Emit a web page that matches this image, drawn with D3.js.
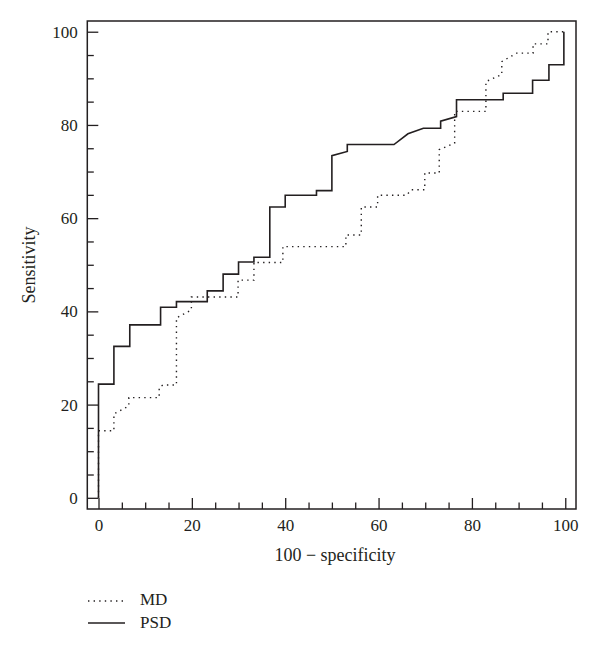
<!DOCTYPE html>
<html>
<head>
<meta charset="utf-8">
<script src="https://cdn.jsdelivr.net/npm/d3@7"></script>
<style>
  html, body { margin: 0; padding: 0; background: #fff; }
  svg { display: block; }
  text { font-family: "Liberation Serif", "Times New Roman", serif; fill: #231f20; }
</style>
</head>
<body>
<svg id="chart" width="600" height="656"></svg>
<script>
// ---- data ----
const seriesNames = ["MD", "PSD"];

const psdFpr = [0, 0, 3.3, 3.3, 6.7, 6.7, 13.3, 13.3, 16.7, 16.7, 23.3, 23.3, 26.7, 26.7, 30, 30, 33.3, 33.3, 36.7, 36.7, 40, 40, 46.7, 46.7, 50, 50, 53.3, 53.3, 63.3, 66.3, 69.6, 73.3, 73.3, 76.7, 76.7, 86.7, 86.7, 93.0, 93.0, 96.5, 96.5, 99.7, 99.7];
const psdTpr = [0, 24.4, 24.4, 32.5, 32.5, 37.1, 37.1, 40.9, 40.9, 42.1, 42.1, 44.4, 44.4, 48.0, 48.0, 50.6, 50.6, 51.6, 51.6, 62.4, 62.4, 64.9, 64.9, 65.9, 65.9, 73.4, 74.3, 75.8, 75.8, 78.1, 79.3, 79.3, 80.8, 81.8, 85.4, 85.4, 86.8, 86.8, 89.6, 89.6, 92.9, 92.9, 100];

const mdFpr = [0, 0, 3.3, 3.3, 6.5, 6.5, 13.0, 13.0, 13.8, 16.7, 16.7, 19.9, 19.9, 29.9, 29.9, 33.3, 33.3, 39.5, 39.5, 53.0, 53.0, 56.3, 56.3, 59.8, 59.8, 66.0, 67.0, 69.9, 69.9, 73.0, 73.0, 76.3, 76.3, 83.0, 83.0, 86.4, 86.4, 89.6, 93.1, 93.1, 96.3, 96.3, 100];
const mdTpr = [0, 14.4, 14.4, 18.0, 19.7, 21.5, 21.5, 23.7, 24.2, 24.2, 38.6, 40.3, 43.1, 43.1, 46.7, 46.7, 50.5, 50.5, 53.9, 53.9, 56.4, 56.4, 62.4, 62.4, 64.9, 64.9, 66.1, 66.1, 69.7, 69.7, 74.7, 76.1, 82.9, 82.9, 89.3, 90.8, 93.6, 95.4, 95.4, 97.4, 97.4, 100, 100];

const majorTicks = [0, 20, 40, 60, 80, 100];
const minorTicks = d3.range(0, 101, 5).filter(v => v % 20 !== 0);
const xTitle = "100 \u2212 specificity";
const yTitle = "Sensitivity";

// ---- layout ----
const frame = { left: 87.3, right: 576, top: 21, bottom: 509 };
const domain = [-2.4, 102.3];
const ink = "#231f20";

const svg = d3.select("#chart");
const x = d3.scaleLinear().domain(domain).range([frame.left, frame.right]);
const y = d3.scaleLinear().domain(domain).range([frame.bottom, frame.top]);

// frame
svg.append("rect")
  .attr("x", frame.left).attr("y", frame.top)
  .attr("width", frame.right - frame.left).attr("height", frame.bottom - frame.top)
  .attr("fill", "none").attr("stroke", ink).attr("stroke-width", 1.5);

function styleAxis(g) {
  g.select(".domain").remove();
  g.selectAll(".tick line").attr("stroke", ink).attr("stroke-width", 1.3);
  g.selectAll(".tick text").attr("fill", ink)
    .style("font-family", '"Liberation Serif", serif').style("font-size", "17px");
}

// x axis (ticks inward)
svg.append("g").attr("transform", `translate(0,${frame.bottom})`)
  .call(d3.axisBottom(x).tickValues(majorTicks).tickSizeInner(-11).tickSizeOuter(0).tickPadding(10).tickFormat(d3.format("d")))
  .call(styleAxis);
svg.append("g").attr("transform", `translate(0,${frame.bottom})`)
  .call(d3.axisBottom(x).tickValues(minorTicks).tickSizeInner(-6.5).tickSizeOuter(0).tickFormat(""))
  .call(styleAxis);

// y axis (ticks inward)
svg.append("g").attr("transform", `translate(${frame.left},0)`)
  .call(d3.axisLeft(y).tickValues(majorTicks).tickSizeInner(-11).tickSizeOuter(0).tickPadding(9.5).tickFormat(d3.format("d")))
  .call(styleAxis);
svg.append("g").attr("transform", `translate(${frame.left},0)`)
  .call(d3.axisLeft(y).tickValues(minorTicks).tickSizeInner(-6.5).tickSizeOuter(0).tickFormat(""))
  .call(styleAxis);

// axis titles
svg.append("text")
  .attr("x", 335).attr("y", 561)
  .attr("text-anchor", "middle")
  .style("font-size", "18px")
  .text(xTitle);

svg.append("text")
  .attr("transform", `translate(35,${(frame.top + frame.bottom) / 2}) rotate(-90)`)
  .attr("text-anchor", "middle")
  .style("font-size", "18px")
  .text(yTitle);

// curves
const line = d3.line().x(d => x(d[0])).y(d => y(d[1]));
const mdPts = mdFpr.map((v, i) => [v, mdTpr[i]]);
const psdPts = psdFpr.map((v, i) => [v, psdTpr[i]]);

svg.append("path").datum(mdPts)
  .attr("d", line).attr("fill", "none").attr("stroke", ink)
  .attr("stroke-width", 1.4).attr("stroke-dasharray", "1.4,4.2");

svg.append("path").datum(psdPts)
  .attr("d", line).attr("fill", "none").attr("stroke", ink)
  .attr("stroke-width", 1.6).attr("stroke-linejoin", "miter");

// legend
const legend = svg.append("g");
const legendRows = [
  { name: seriesNames[0], dash: "1.4,4.2", ly: 601, ty: 605 },
  { name: seriesNames[1], dash: null, ly: 623, ty: 628 }
];
legendRows.forEach(r => {
  legend.append("line")
    .attr("x1", 88).attr("x2", 125).attr("y1", r.ly).attr("y2", r.ly)
    .attr("stroke", ink).attr("stroke-width", r.dash ? 1.4 : 1.6)
    .attr("stroke-dasharray", r.dash);
  legend.append("text")
    .attr("x", 140).attr("y", r.ty)
    .style("font-size", "17px")
    .text(r.name);
});
</script>
</body>
</html>
